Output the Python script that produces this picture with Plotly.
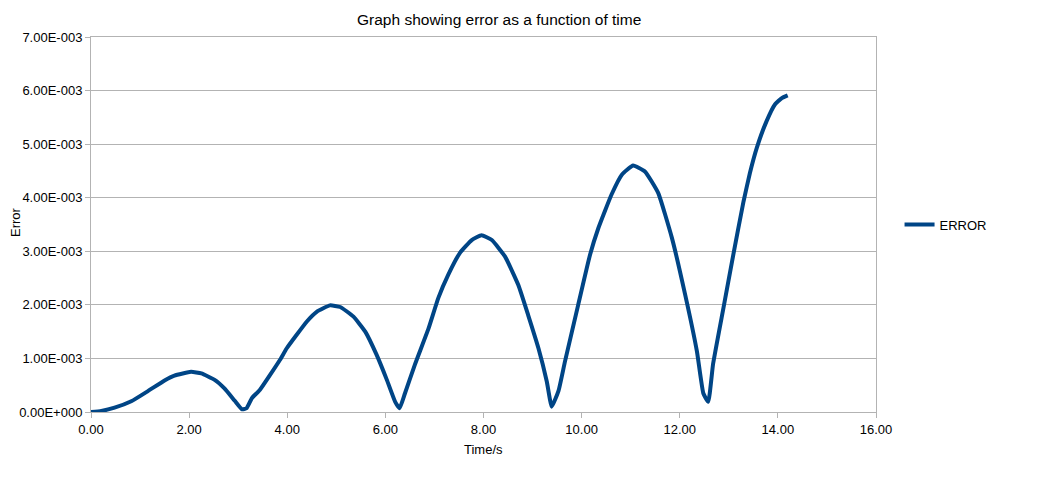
import plotly.graph_objects as go

# time (s) and error values
time_s = [0.0, 0.21, 0.48, 0.82, 1.16, 1.50, 1.70, 2.04, 2.25, 2.52, 2.72, 2.93, 3.08, 3.17,
          3.28, 3.44, 3.85, 3.99, 4.40, 4.60, 4.87, 5.08, 5.35, 5.59, 5.82, 6.03, 6.20, 6.29,
          6.40, 6.60, 6.88, 7.08, 7.28, 7.52, 7.76, 7.96, 8.17, 8.44, 8.71, 8.91, 9.12, 9.29,
          9.39, 9.53, 9.66, 9.93, 10.17, 10.34, 10.61, 10.82, 11.05, 11.29, 11.56, 11.84,
          12.11, 12.35, 12.48, 12.58, 12.68, 12.89, 13.09, 13.30, 13.43, 13.57, 13.77, 13.94,
          14.08, 14.20]
error = [0.0, 0.02, 0.08, 0.20, 0.39, 0.59, 0.68, 0.75, 0.72, 0.60, 0.44, 0.21, 0.05, 0.07,
         0.26, 0.41, 0.97, 1.19, 1.69, 1.87, 1.99, 1.96, 1.78, 1.50, 1.07, 0.60, 0.19, 0.07,
         0.35, 0.88, 1.56, 2.13, 2.56, 2.97, 3.21, 3.30, 3.21, 2.90, 2.37, 1.81, 1.19, 0.57,
         0.10, 0.40, 0.94, 2.00, 2.93, 3.43, 4.06, 4.43, 4.60, 4.49, 4.09, 3.25,
         2.19, 1.13, 0.35, 0.19, 0.90, 1.94, 2.93, 3.93, 4.46, 4.93, 5.43, 5.74,
         5.86, 5.91]
error = [e * 1e-3 for e in error]

y_ticks = [i * 1e-3 for i in range(8)]
y_labels = ["0.00E+000", "1.00E-003", "2.00E-003", "3.00E-003",
            "4.00E-003", "5.00E-003", "6.00E-003", "7.00E-003"]

grid = "#b3b3b3"
font = "Liberation Sans, Arial, sans-serif"

fig = go.Figure()
fig.add_trace(go.Scatter(x=time_s, y=error, mode="lines", name="ERROR",
                         line=dict(color="#004586", width=4, shape="spline", smoothing=0.4)))

# page has an 8px body margin, so margins are shifted to compensate
fig.update_layout(
    width=1038, height=492,
    paper_bgcolor="white", plot_bgcolor="white",
    margin=dict(l=83, r=170, t=29, b=88),
    font=dict(family=font, size=13, color="black"),
    title=dict(text="Graph showing error as a function of time", x=0.52, xref="paper",
               xanchor="center", y=1 - 12 / 492, yref="container", yanchor="middle",
               font=dict(size=15.5)),
    legend=dict(x=1.03, y=0.5, xanchor="left", yanchor="middle", font=dict(size=13),
                itemwidth=30, tracegroupgap=0),
    showlegend=True,
)
fig.update_xaxes(range=[0, 16], dtick=2, tickformat=".2f", showgrid=False,
                 showline=True, linecolor=grid, ticks="outside", tickcolor=grid,
                 ticklen=5, zeroline=False, mirror=True)
fig.update_yaxes(range=[0, 7e-3], tickvals=y_ticks, ticktext=y_labels, showgrid=True,
                 gridcolor=grid, showline=True, linecolor=grid, ticks="outside",
                 tickcolor=grid, ticklen=5, zeroline=False, mirror=True)

fig.add_annotation(text="Time/s", x=(483 - 91) / 785, y=-37 / 375, xref="paper", yref="paper",
                   xanchor="center", yanchor="middle", showarrow=False, font=dict(size=13))
fig.add_annotation(text="Error", x=-75 / 785, y=(412 - 222) / 375, xref="paper", yref="paper",
                   xanchor="center", yanchor="middle", textangle=-90, showarrow=False,
                   font=dict(size=13))

fig.write_html("out.html")
